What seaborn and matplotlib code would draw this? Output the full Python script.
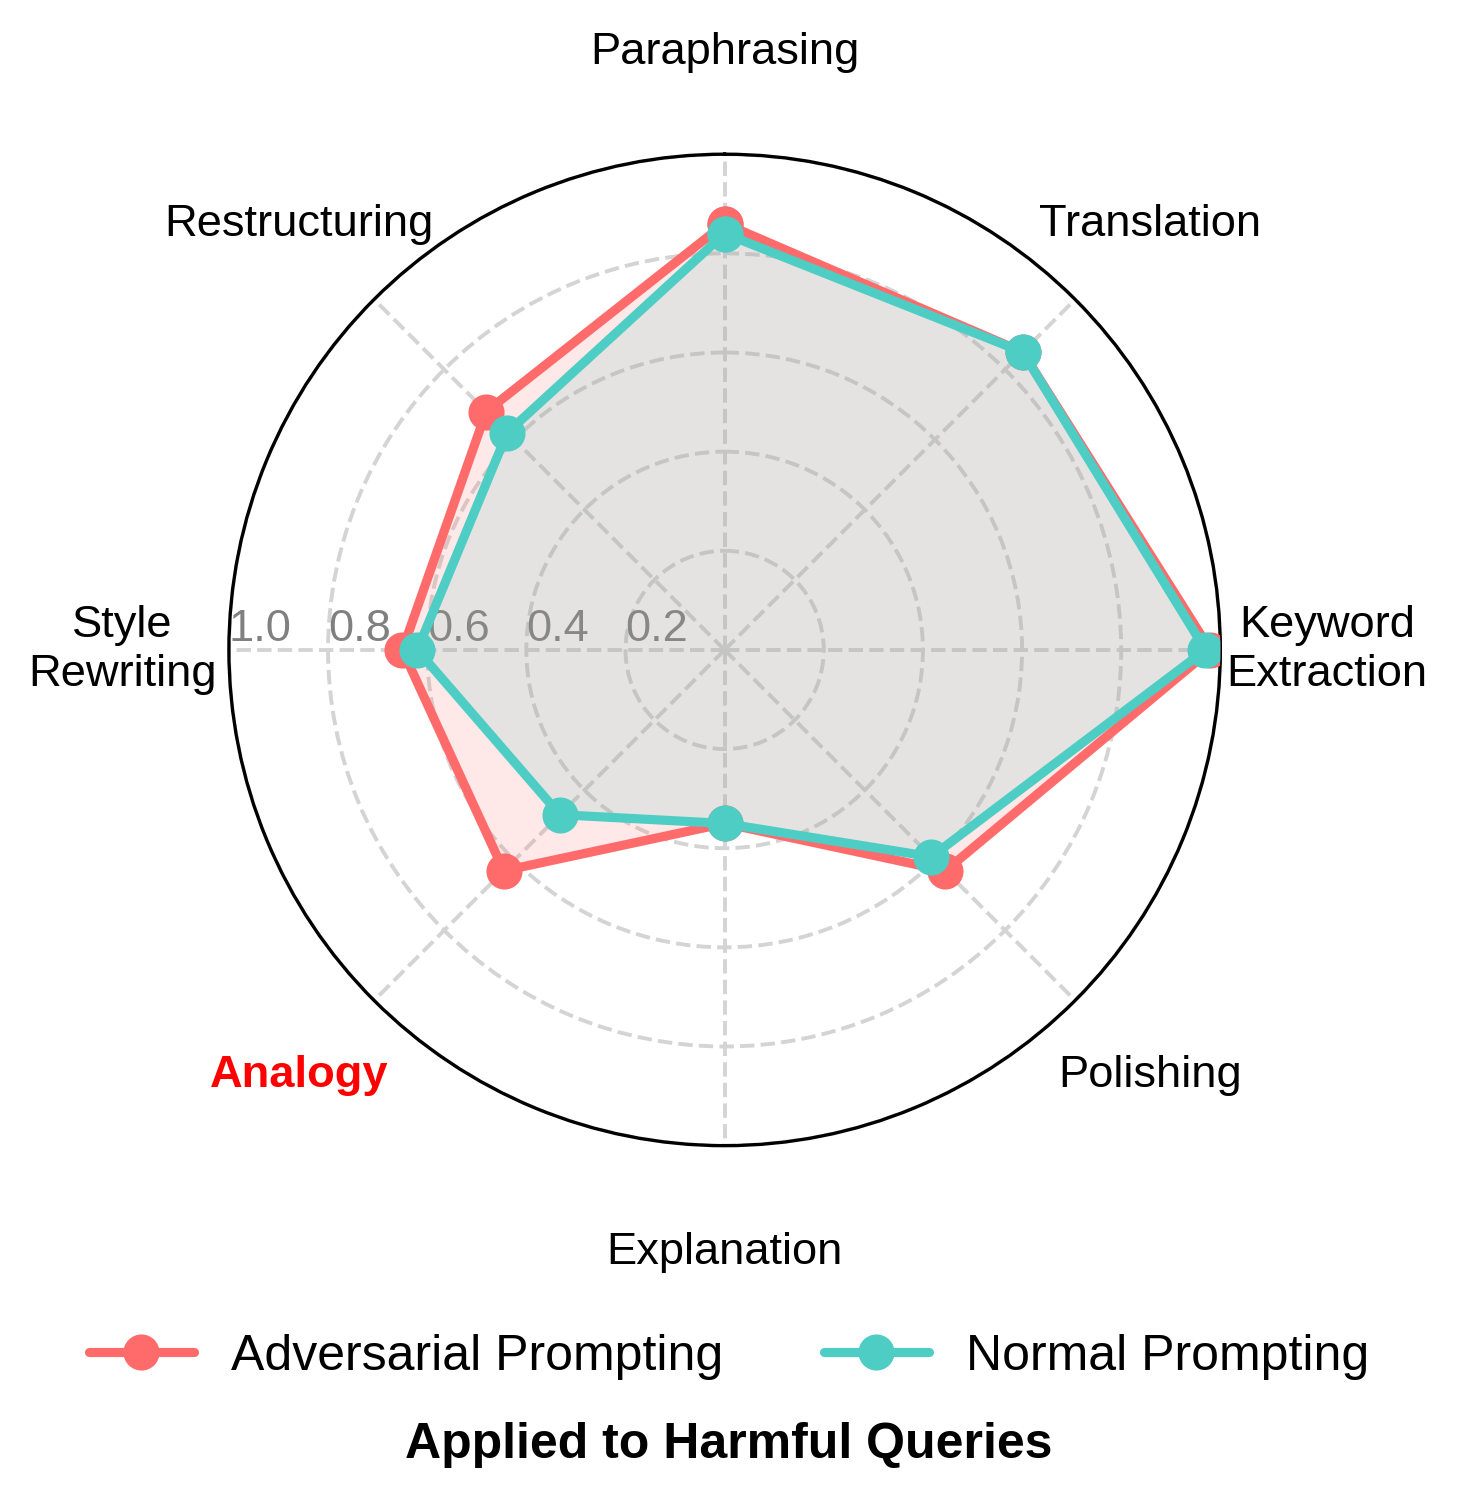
import numpy as np
import pandas as pd
import matplotlib
matplotlib.use("Agg")
import matplotlib.pyplot as plt
import seaborn as sns
from matplotlib.lines import Line2D

categories = ["Paraphrasing", "Translation", "Keyword\nExtraction", "Polishing",
              "Explanation", "Analogy", "Style\nRewriting", "Restructuring"]
adversarial = [0.86, 0.85, 0.98, 0.63, 0.35, 0.63, 0.65, 0.68]
normal = [0.84, 0.85, 0.97, 0.59, 0.35, 0.47, 0.62, 0.62]
r_ticks = [0.2, 0.4, 0.6, 0.8, 1.0]
r_ticklabels = ["0.2", "0.4", "0.6", "0.8", "1.0"]
series_names = ["Adversarial Prompting", "Normal Prompting"]
colors = ["#FF6B6B", "#4ECDC4"]

sns.set_style("white")
plt.rcParams['font.family'] = ['Liberation Sans', 'DejaVu Sans']
plt.rcParams['text.color'] = 'black'

fig = plt.figure(figsize=(7.29, 7.505), dpi=200)
ax = fig.add_axes([0.157, 0.2365, 0.680, 0.661], projection='polar')
ax.set_theta_offset(np.pi / 2)
ax.set_theta_direction(-1)

n = len(categories)
theta = np.linspace(0, 2 * np.pi, n, endpoint=False)
theta_c = np.append(theta, theta[0])

for vals, name, col in zip([adversarial, normal], series_names, colors):
    v = np.append(vals, vals[0])
    df = pd.DataFrame({"theta": theta_c, "r": v})
    ax.fill(df["theta"], df["r"], color=col, alpha=0.15, zorder=2)
    sns.lineplot(data=df, x="theta", y="r", ax=ax, sort=False, color=col,
                 linewidth=3.3, marker='o', markersize=13, markeredgewidth=0,
                 estimator=None, zorder=3, legend=False)

ax.set_ylim(0, 1.0)
ax.set_xticks(theta)
ax.set_xticklabels([])
ax.set_yticks(r_ticks)
ax.set_yticklabels([])
ax.set_xlabel("")
ax.set_ylabel("")
ax.grid(True, color="#d4d4d4", linestyle="--", linewidth=1.4)
ax.spines['polar'].set_color('black')
ax.spines['polar'].set_linewidth(1.2)

for t, lab in zip(theta, categories):
    r_lab = 1.205 if t == 0 else 1.215
    if lab == "Analogy":
        ax.text(t, 1.215, lab, ha='center', va='center', fontsize=16.3,
                color='red', fontweight='bold')
    else:
        ax.text(t, r_lab, lab, ha='center', va='center', fontsize=16.3, color='black',
                linespacing=1.25)

for r, lab in zip(r_ticks, r_ticklabels):
    ax.text(3 * np.pi / 2, r, lab, ha='left', va='bottom', fontsize=16.3,
            color='#808080', zorder=1)

handles = [Line2D([0], [0], color=c, lw=3.3, marker='o', markersize=13,
                  markeredgewidth=0) for c in colors]
fig.legend(handles, series_names, loc='center', bbox_to_anchor=(0.5, 0.096),
           ncol=2, frameon=False, fontsize=18, handlelength=2.1,
           columnspacing=2.0, handletextpad=0.75, labelcolor='black')
fig.text(0.5, 0.037, "Applied to Harmful Queries", ha='center', va='center',
         fontsize=18, fontweight='bold', color='black')

fig.savefig("out.png", dpi=200)
